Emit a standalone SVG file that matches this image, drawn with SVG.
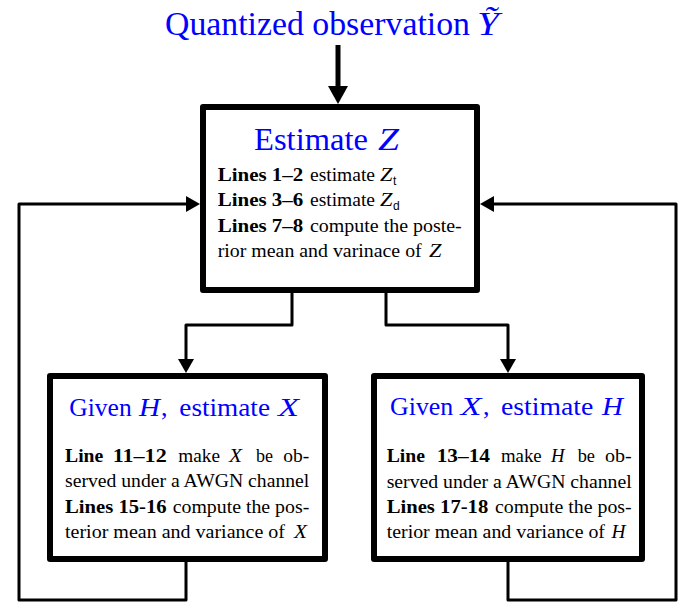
<svg xmlns="http://www.w3.org/2000/svg" width="686" height="605" viewBox="0 0 686 605">
<style>
.conn{fill:none;stroke:#000;stroke-width:3;stroke-linejoin:round}
.box{fill:#fff;stroke:#000;stroke-width:6;stroke-linejoin:round}
text{font-family:"Liberation Serif","Times New Roman",serif;fill:#000}
.ttl{fill:#0000ff}
.big{font-size:33px}
.mid{font-size:31px}
.hd{font-size:26px}
.bd{font-size:18px}
.b{font-weight:bold}
.i{font-style:italic}
.sub{font-family:"Liberation Sans",Arial,sans-serif;font-size:12px}
</style>
<defs>
<marker id="ah" viewBox="-5 -10 16 20" markerWidth="16" markerHeight="20" refX="0" refY="0" orient="auto" markerUnits="userSpaceOnUse">
<path d="M-4,-8 L10,0 L-4,8 z" fill="#000"/>
</marker>
<marker id="ahb" viewBox="-7 -11 20 22" markerWidth="20" markerHeight="22" refX="0" refY="0" orient="auto" markerUnits="userSpaceOnUse">
<path d="M-6,-10 L12,0 L-6,10 z" fill="#000"/>
</marker>
</defs>
<g id="connectors">
<path class="conn" d="M338,45 V92" style="stroke-width:5" marker-end="url(#ahb)"/>
<path class="conn" d="M292,290 V325 H186 V363" marker-end="url(#ah)"/>
<path class="conn" d="M386,290 V325 H508 V363" marker-end="url(#ah)"/>
<path class="conn" d="M186,559 V600 H19 V204 H190" marker-end="url(#ah)"/>
<path class="conn" d="M508,559 V600 H676 V204 H490" marker-end="url(#ah)"/>
</g>
<g id="input">
<text class="ttl big" x="165" y="35" textLength="305" lengthAdjust="spacingAndGlyphs">Quantized observation</text>
<text class="ttl big i" x="477" y="35" textLength="22" lengthAdjust="spacingAndGlyphs">Ỹ</text>
</g>
<g id="estimateZ">
<rect class="box" x="203" y="107" width="274" height="183"/>
<text class="ttl mid" x="254" y="150" textLength="114" lengthAdjust="spacingAndGlyphs">Estimate</text>
<text class="ttl mid i" x="378" y="150" textLength="21" lengthAdjust="spacingAndGlyphs">Z</text>
<text class="bd b" x="217.7" y="181" textLength="85.6" lengthAdjust="spacingAndGlyphs">Lines 1–2</text>
<text class="bd" x="310" y="181" textLength="65" lengthAdjust="spacingAndGlyphs">estimate</text>
<text class="bd i" x="380" y="181" textLength="12.5" lengthAdjust="spacingAndGlyphs">Z</text>
<text class="sub" x="393" y="184.5">t</text>
<text class="bd b" x="217.7" y="206" textLength="85.6" lengthAdjust="spacingAndGlyphs">Lines 3–6</text>
<text class="bd" x="310" y="206" textLength="65" lengthAdjust="spacingAndGlyphs">estimate</text>
<text class="bd i" x="380" y="206" textLength="12.5" lengthAdjust="spacingAndGlyphs">Z</text>
<text class="sub" x="393" y="209.5">d</text>
<text class="bd b" x="217.7" y="231.7" textLength="85.6" lengthAdjust="spacingAndGlyphs">Lines 7–8</text>
<text class="bd" x="310" y="231.7" textLength="151.7" lengthAdjust="spacingAndGlyphs">compute the poste-</text>
<text class="bd" x="217.7" y="256.7" textLength="204" lengthAdjust="spacingAndGlyphs">rior mean and varinace of</text>
<text class="bd i" x="429" y="256.7" textLength="12.5" lengthAdjust="spacingAndGlyphs">Z</text>
</g>
<g id="estimateX">
<rect class="box" x="50" y="376" width="275" height="183"/>
<text class="ttl hd" x="69.3" y="416" textLength="62.4" lengthAdjust="spacingAndGlyphs">Given</text>
<text class="ttl hd i" x="139" y="416" textLength="21" lengthAdjust="spacingAndGlyphs">H</text>
<text class="ttl hd" x="161" y="416">,</text>
<text class="ttl hd" x="179.3" y="416" textLength="90.7" lengthAdjust="spacingAndGlyphs">estimate</text>
<text class="ttl hd i" x="278" y="416" textLength="21" lengthAdjust="spacingAndGlyphs">X</text>
<text class="bd b" x="65" y="461.7" textLength="38.3" lengthAdjust="spacingAndGlyphs">Line</text>
<text class="bd b" x="112.7" y="461.7" textLength="54" lengthAdjust="spacingAndGlyphs">11–12</text>
<text class="bd" x="178.3" y="461.7" textLength="41.7" lengthAdjust="spacingAndGlyphs">make</text>
<text class="bd i" x="229" y="461.7" textLength="13" lengthAdjust="spacingAndGlyphs">X</text>
<text class="bd" x="256" y="461.7" textLength="17" lengthAdjust="spacingAndGlyphs">be</text>
<text class="bd" x="283.3" y="461.7" textLength="26" lengthAdjust="spacingAndGlyphs">ob-</text>
<text class="bd" x="65" y="487.3" textLength="244.3" lengthAdjust="spacingAndGlyphs">served under a AWGN channel</text>
<text class="bd b" x="65" y="513.3" textLength="101.7" lengthAdjust="spacingAndGlyphs">Lines 15-16</text>
<text class="bd" x="172.7" y="513.3" textLength="136.6" lengthAdjust="spacingAndGlyphs">compute the pos-</text>
<text class="bd" x="65" y="538.3" textLength="220" lengthAdjust="spacingAndGlyphs">terior mean and variance of</text>
<text class="bd i" x="294" y="538.3" textLength="13" lengthAdjust="spacingAndGlyphs">X</text>
</g>
<g id="estimateH">
<rect class="box" x="374" y="376" width="268" height="183"/>
<text class="ttl hd" x="390" y="415" textLength="63.3" lengthAdjust="spacingAndGlyphs">Given</text>
<text class="ttl hd i" x="460.5" y="415" textLength="21" lengthAdjust="spacingAndGlyphs">X</text>
<text class="ttl hd" x="483" y="415">,</text>
<text class="ttl hd" x="501" y="415" textLength="92.3" lengthAdjust="spacingAndGlyphs">estimate</text>
<text class="ttl hd i" x="602" y="415" textLength="21" lengthAdjust="spacingAndGlyphs">H</text>
<text class="bd b" x="386.7" y="461.7" textLength="38.3" lengthAdjust="spacingAndGlyphs">Line</text>
<text class="bd b" x="436.7" y="461.7" textLength="53.3" lengthAdjust="spacingAndGlyphs">13–14</text>
<text class="bd" x="501" y="461.7" textLength="40.7" lengthAdjust="spacingAndGlyphs">make</text>
<text class="bd i" x="551" y="461.7" textLength="13.5" lengthAdjust="spacingAndGlyphs">H</text>
<text class="bd" x="577.7" y="461.7" textLength="17.3" lengthAdjust="spacingAndGlyphs">be</text>
<text class="bd" x="605" y="461.7" textLength="26.7" lengthAdjust="spacingAndGlyphs">ob-</text>
<text class="bd" x="386.7" y="487.5" textLength="245" lengthAdjust="spacingAndGlyphs">served under a AWGN channel</text>
<text class="bd b" x="386.7" y="513.3" textLength="101.6" lengthAdjust="spacingAndGlyphs">Lines 17-18</text>
<text class="bd" x="495" y="513.3" textLength="136.7" lengthAdjust="spacingAndGlyphs">compute the pos-</text>
<text class="bd" x="386.7" y="538.3" textLength="218.3" lengthAdjust="spacingAndGlyphs">terior mean and variance of</text>
<text class="bd i" x="611.5" y="538.3" textLength="14" lengthAdjust="spacingAndGlyphs">H</text>
</g>
</svg>
